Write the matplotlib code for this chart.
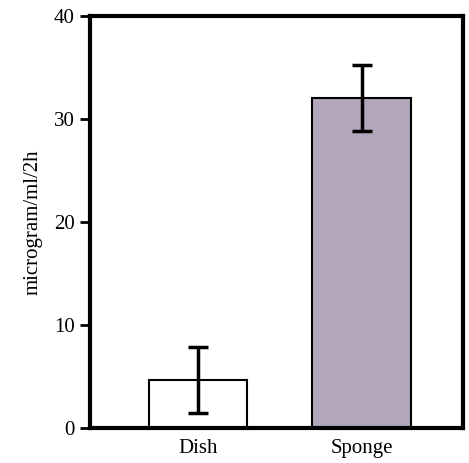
import matplotlib.pyplot as plt

groups = ["Dish", "Sponge"]
means = [4.7, 32.1]
errors = [3.2, 3.2]
colors = ["white", "#b2a7bb"]

plt.rcParams['font.family'] = ['Liberation Serif', 'DejaVu Serif']

fig = plt.figure(figsize=(4.69, 4.63), dpi=100)
ax = fig.add_axes([0.192, 0.0756, 0.795, 0.889])

x = range(len(groups))
ax.bar(x, means, width=0.6, color=colors, edgecolor="black", linewidth=1.5, zorder=2)
ax.errorbar(x, means, yerr=errors, fmt="none", ecolor="black", elinewidth=2.5,
            capsize=7.5, capthick=2.5, zorder=3)

ax.set_xlim(-0.66, 1.62)
ax.set_ylim(0, 40)
ax.set_yticks([0, 10, 20, 30, 40])
ax.set_xticks(list(x))
ax.set_xticklabels(groups, fontsize=15)
ax.tick_params(axis="x", length=0, pad=8)
ax.tick_params(axis="y", length=7, width=2, labelsize=15, pad=4)
ax.set_ylabel("microgram/ml/2h", fontsize=15, labelpad=8)

for s in ax.spines.values():
    s.set_linewidth(3)

plt.savefig("out.png", dpi=100)
